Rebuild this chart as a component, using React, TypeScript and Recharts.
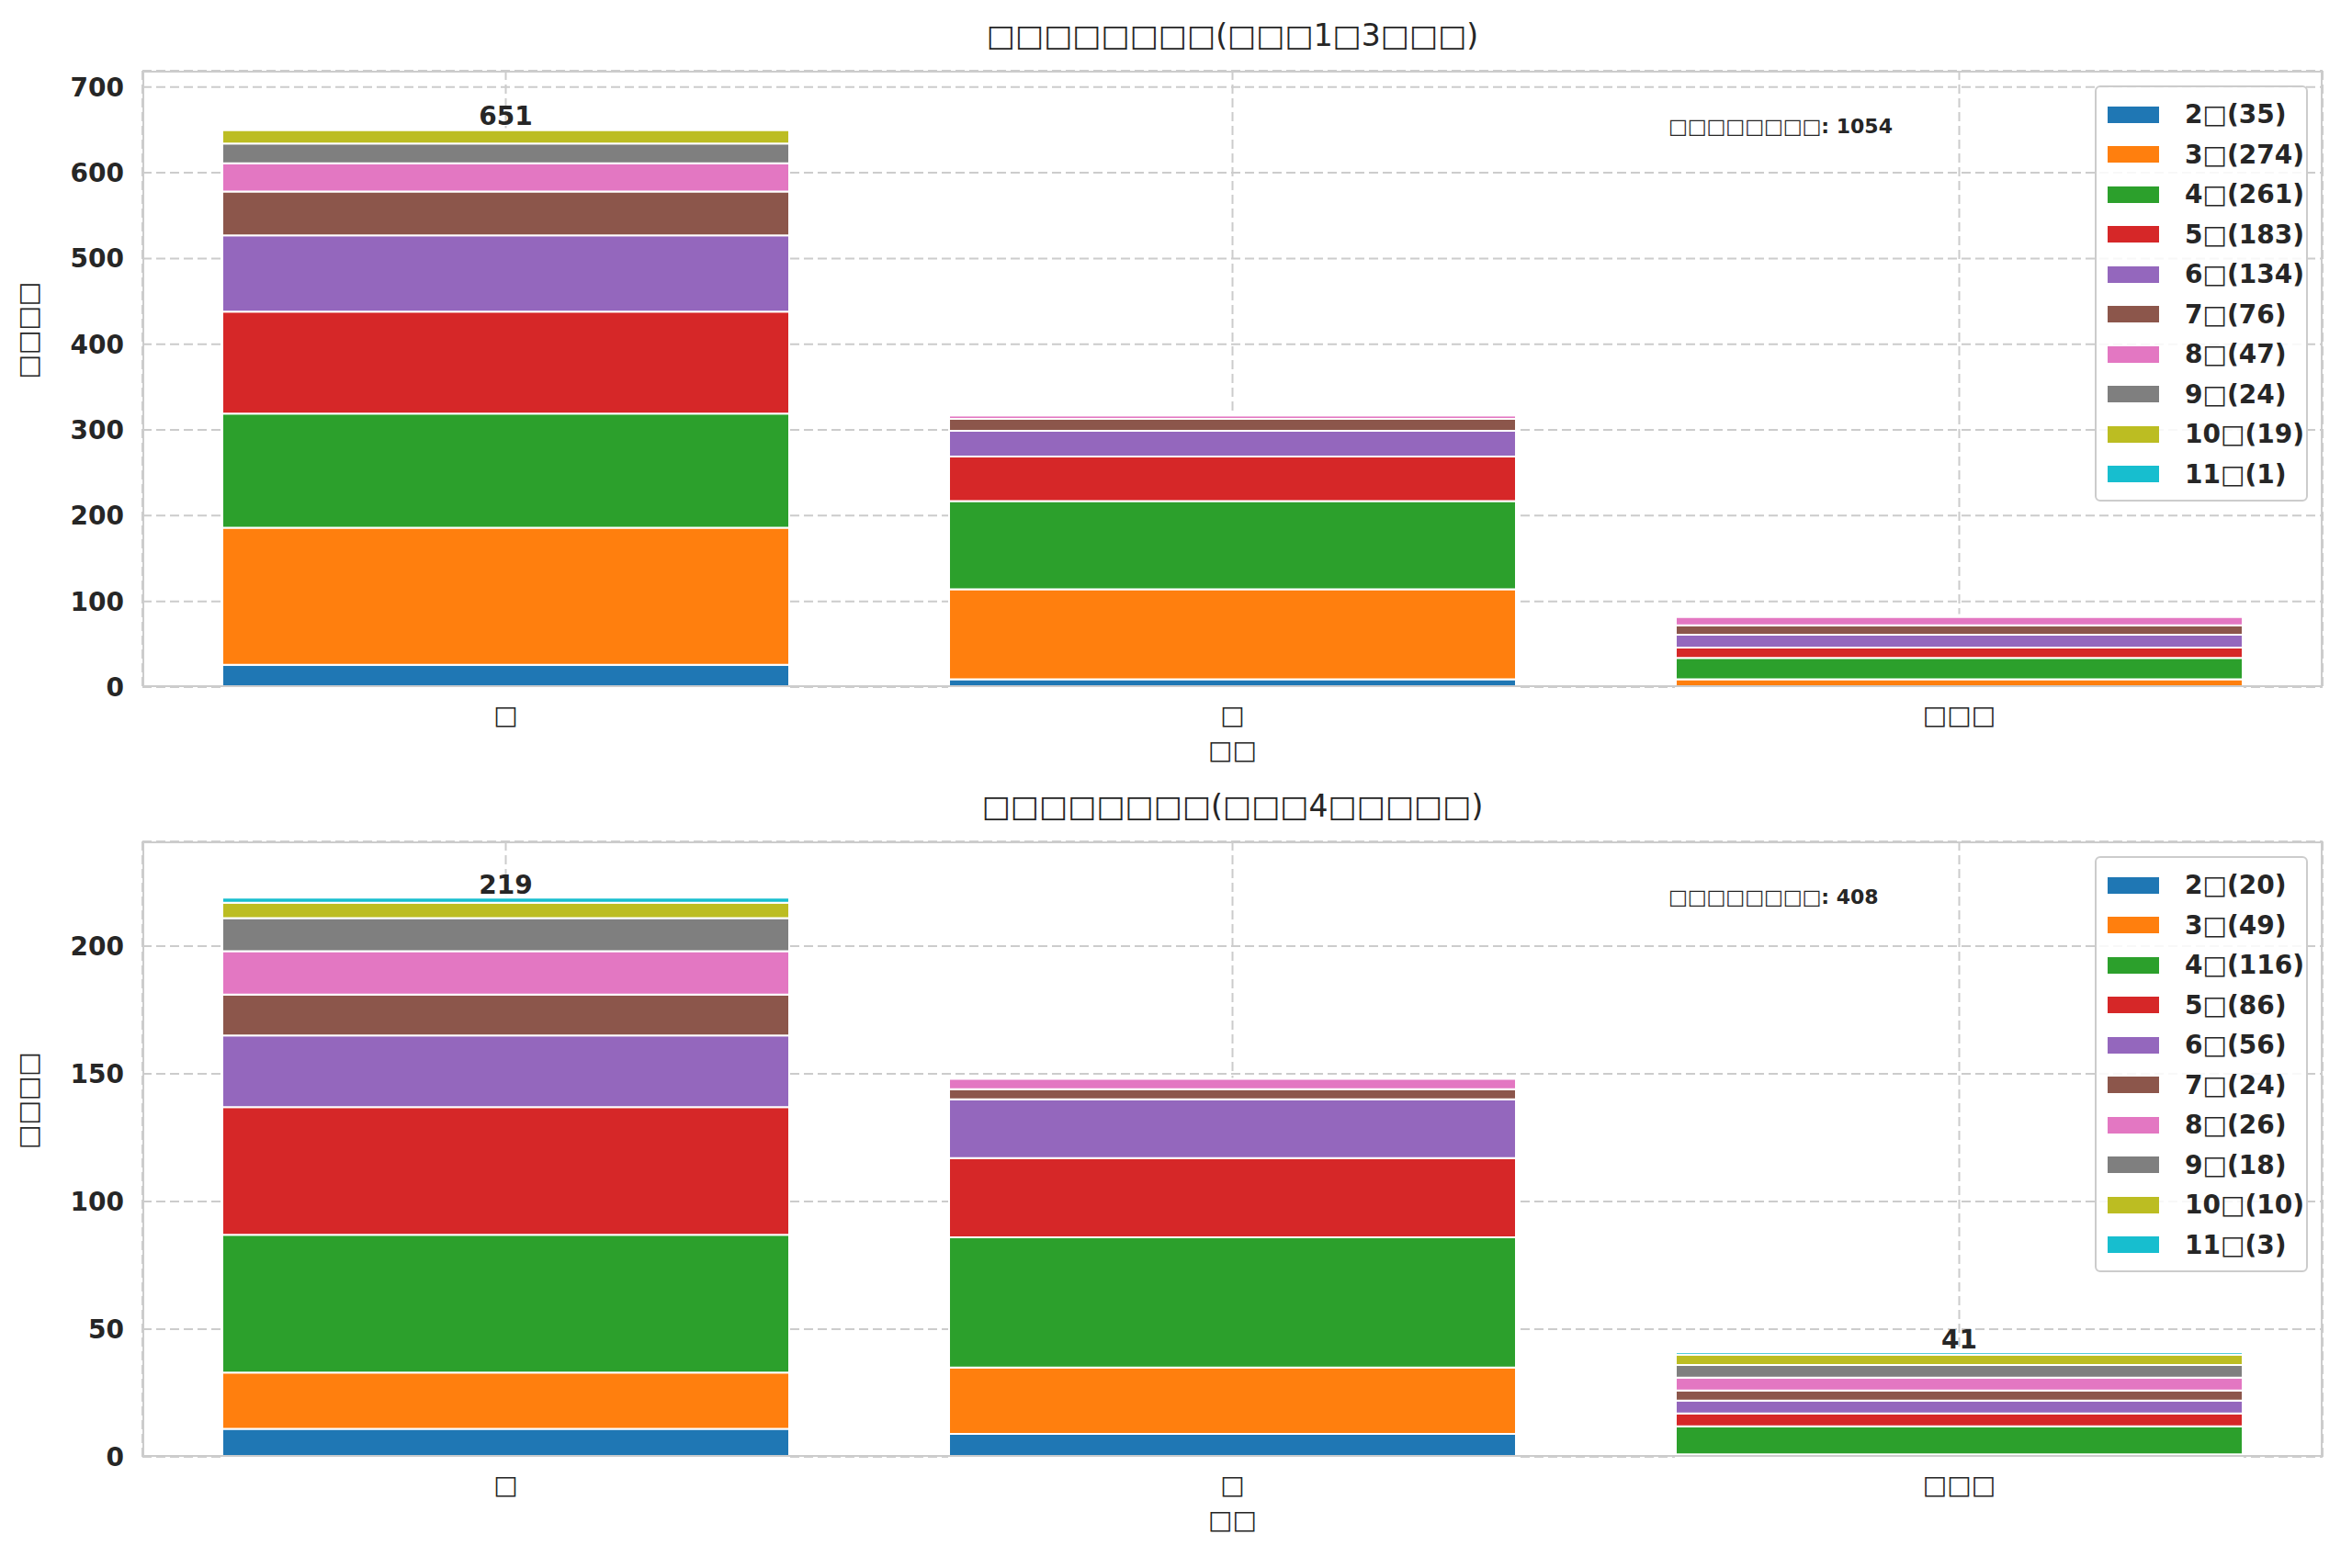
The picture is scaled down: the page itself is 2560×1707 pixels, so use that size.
import React from 'react';
import { BarChart, Bar, XAxis, YAxis, CartesianGrid, LabelList } from 'recharts';

const categories = ['□', '□', '□□□'];
const seriesNames = ['2□', '3□', '4□', '5□', '6□', '7□', '8□', '9□', '10□', '11□'];
const colors = ['#1f77b4', '#ff7f0e', '#2ca02c', '#d62728', '#9467bd', '#8c564b', '#e377c2', '#7f7f7f', '#bcbd22', '#17becf'];

// values per series, per category
const topValues = [
  [26, 9, 0], [160, 105, 9], [133, 103, 25], [119, 52, 12], [89, 30, 15],
  [51, 14, 11], [33, 4, 10], [23, 1, 0], [16, 1, 2], [1, 0, 0],
];
const bottomValues = [
  [11, 9, 0], [22, 26, 1], [54, 51, 11], [50, 31, 5], [28, 23, 5],
  [16, 4, 4], [17, 4, 5], [13, 0, 5], [6, 0, 4], [2, 0, 1],
];
const topTicks = [0, 100, 200, 300, 400, 500, 600, 700];
const bottomTicks = [0, 50, 100, 150, 200];

const W = 2560;
const font = 'DejaVu Sans, sans-serif';

function build(values: number[][]) {
  return categories.map((c, ci) => {
    const row: any = { cat: c, total: 0 };
    values.forEach((v, si) => { row['s' + si] = v[ci]; row.total += v[ci]; });
    return row;
  });
}

function Panel({ values, ticks, yMax, title, note, plotTop, plotBottom, height }: any) {
  const data = build(values);
  const totals = values.map((v: number[]) => v.reduce((a, b) => a + b, 0));
  const grand = data.reduce((a: number, r: any) => a + r.total, 0);
  const plotLeft = 155, plotRight = 2528;
  return (
    <div style={{ position: 'relative', width: W, height }}>
      <div style={{ position: 'absolute', top: plotTop - 58, width: W, left: 0, paddingLeft: plotLeft, boxSizing: 'border-box', textAlign: 'center', fontSize: 33, color: '#262626', fontFamily: font }}>
        <div style={{ width: plotRight - plotLeft, textAlign: 'center' }}>{title}</div>
      </div>
      <BarChart width={W} height={height} data={data} barCategoryGap="11%"
        margin={{ top: plotTop, right: W - plotRight, bottom: 0, left: 0 }}>
        <CartesianGrid stroke="#cccccc" strokeDasharray="10 5" strokeWidth={2} />
        <XAxis dataKey="cat" height={height - plotBottom} axisLine={false} tickLine={false}
          tick={{ fontSize: 28, fill: '#262626', fontFamily: font }} tickMargin={14}
          label={{ value: '□□', position: 'insideTop', offset: 58, fontSize: 28, fill: '#262626', fontFamily: font }} />
        <YAxis width={plotLeft} domain={[0, yMax]} ticks={ticks} axisLine={false} tickLine={false} interval={0}
          tick={{ fontSize: 28, fill: '#262626', fontWeight: 'bold', fontFamily: font }} tickMargin={14}
          label={{ value: '□□□□', angle: -90, position: 'insideLeft', offset: 30, fontSize: 28, fill: '#262626', fontFamily: font }} />
        {seriesNames.map((n, i) => (
          <Bar key={n} dataKey={'s' + i} stackId="a" fill={colors[i]} stroke="#ffffff" strokeWidth={2} isAnimationActive={false}>
            {i === seriesNames.length - 1 && (
              <LabelList dataKey="total" position="top" offset={4}
                style={{ fontSize: 28, fontWeight: 'bold', fill: '#262626', fontFamily: font }} />
            )}
          </Bar>
        ))}
      </BarChart>
      <div style={{ position: 'absolute', left: plotLeft, top: plotTop, width: plotRight - plotLeft, height: plotBottom - plotTop, border: '2px solid #cccccc', boxSizing: 'border-box', pointerEvents: 'none' }} />
      <div style={{ position: 'absolute', left: 1816, top: plotTop + 48, fontSize: 22, fontWeight: 'bold', color: '#262626', fontFamily: font }}>{'□□□□□□□□: ' + grand}</div>
      <div style={{ position: 'absolute', left: 2280, top: plotTop + 16, width: 232, border: '2px solid #cccccc', borderRadius: 6, background: 'rgba(255,255,255,0.85)', padding: '8px 0 6px 0', boxSizing: 'border-box', fontFamily: font }}>
        {seriesNames.map((n, i) => (
          <div key={n} style={{ display: 'flex', alignItems: 'center', height: 43.5 }}>
            <div style={{ width: 56, height: 18, background: colors[i], marginLeft: 12, marginRight: 28 }} />
            <span style={{ fontSize: 28, fontWeight: 'bold', color: '#262626' }}>{`${n}(${totals[i]})`}</span>
          </div>
        ))}
      </div>
    </div>
  );
}

export default function App() {
  return (
    <div style={{ width: W, height: 1707, background: '#fff', margin: -8 }}>
      <Panel values={topValues} ticks={topTicks} yMax={719} title="□□□□□□□□(□□□1□3□□□)" plotTop={77} plotBottom={748} height={853} />
      <Panel values={bottomValues} ticks={bottomTicks} yMax={241} title="□□□□□□□□(□□□4□□□□□)" plotTop={63} plotBottom={733} height={854} />
    </div>
  );
}
